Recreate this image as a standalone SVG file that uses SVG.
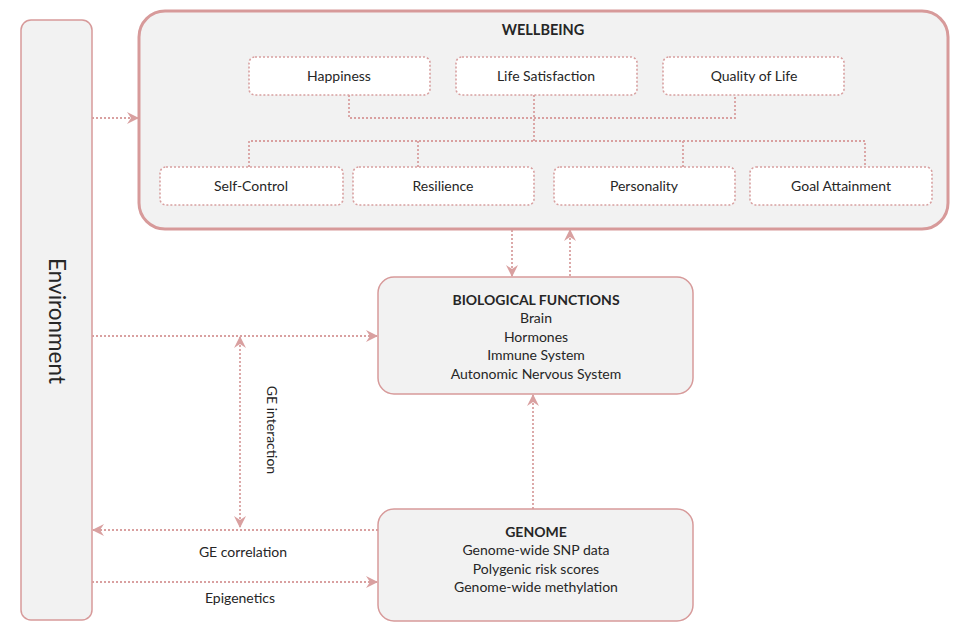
<svg xmlns="http://www.w3.org/2000/svg" width="956" height="622" viewBox="0 0 956 622">
<defs>
<style>
.t{font-family:Lato,"Open Sans","Liberation Sans",sans-serif;font-size:14px;fill:#262626;text-anchor:middle}
.b{font-weight:bold}
.big{fill:#f2f2f2;stroke:#d79a9a}
.sub{fill:#ffffff;stroke:#d8a0a0;stroke-width:1.6;stroke-dasharray:2 2}
.c{fill:none;stroke:#d9a0a0;stroke-width:1.8;stroke-dasharray:2 2}
.a{fill:none;stroke:#d9a0a0;stroke-width:1.8;stroke-dasharray:2 2;marker-end:url(#ah)}
</style>
<marker id="ah" viewBox="0 0 12 12" refX="11" refY="6" markerWidth="12" markerHeight="12" markerUnits="userSpaceOnUse" orient="auto-start-reverse">
<path d="M0,0 L12,6 L0,12 L4,6 z" fill="#d9a0a0"/>
</marker>
</defs>
<rect width="956" height="622" fill="#ffffff"/>

<g id="environment">
<rect class="big" x="21" y="20" width="71" height="600" rx="10" stroke-width="1.5"/>
<text class="t" transform="translate(57,321) rotate(90)" style="font-size:22.5px" dy="8">Environment</text>
</g>

<g id="wellbeing">
<rect class="big" x="139" y="11" width="809" height="218" rx="26" stroke-width="3"/>
<text class="t b" x="543" y="35" style="font-size:14.5px">WELLBEING</text>
</g>

<g id="connectors">
<path class="c" d="M349,95 V118 H735 V95"/>
<path class="c" d="M534,95 V141"/>
<path class="c" d="M249,167 V141 H865 V167"/>
<path class="c" d="M418,141 V167"/>
<path class="c" d="M683,141 V167"/>
<path class="a" d="M92,118 H138"/>
<path class="a" d="M512,230 V276"/>
<path class="a" d="M570,276 V230"/>
<path class="a" d="M92,336 H377"/>
<path class="a" d="M533,509 V395"/>
<path class="a" d="M240,337 V527" style="marker-start:url(#ah)"/>
<path class="a" d="M378,530 H93"/>
<path class="a" d="M92,582 H377"/>
<text class="t" x="243" y="557">GE correlation</text>
<text class="t" x="240" y="603">Epigenetics</text>
<text class="t" transform="translate(272,430) rotate(90)" dy="5">GE interaction</text>
</g>

<g id="happiness"><rect class="sub" x="249" y="57" width="181" height="38" rx="6"/><text class="t" x="339" y="81">Happiness</text></g>
<g id="life-satisfaction"><rect class="sub" x="456" y="57" width="181" height="38" rx="6"/><text class="t" x="546" y="81">Life Satisfaction</text></g>
<g id="quality-of-life"><rect class="sub" x="663" y="57" width="181" height="38" rx="6"/><text class="t" x="754" y="81">Quality of Life</text></g>
<g id="self-control"><rect class="sub" x="160" y="167" width="183" height="38" rx="6"/><text class="t" x="251" y="191">Self-Control</text></g>
<g id="resilience"><rect class="sub" x="353" y="167" width="181" height="38" rx="6"/><text class="t" x="443" y="191">Resilience</text></g>
<g id="personality"><rect class="sub" x="554" y="167" width="181" height="38" rx="6"/><text class="t" x="644" y="191">Personality</text></g>
<g id="goal-attainment"><rect class="sub" x="750" y="167" width="182" height="38" rx="6"/><text class="t" x="841" y="191">Goal Attainment</text></g>

<g id="biological-functions">
<rect class="big" x="378" y="277" width="315" height="117" rx="16" stroke-width="1.5"/>
<text class="t b" x="536" y="305">BIOLOGICAL FUNCTIONS</text>
<text class="t" x="536" y="323">Brain</text>
<text class="t" x="536" y="342">Hormones</text>
<text class="t" x="536" y="360">Immune System</text>
<text class="t" x="536" y="379">Autonomic Nervous System</text>
</g>

<g id="genome">
<rect class="big" x="378" y="509" width="315" height="112" rx="16" stroke-width="1.5"/>
<text class="t b" x="536" y="537">GENOME</text>
<text class="t" x="536" y="555">Genome-wide SNP data</text>
<text class="t" x="536" y="574">Polygenic risk scores</text>
<text class="t" x="536" y="592">Genome-wide methylation</text>
</g>
</svg>
